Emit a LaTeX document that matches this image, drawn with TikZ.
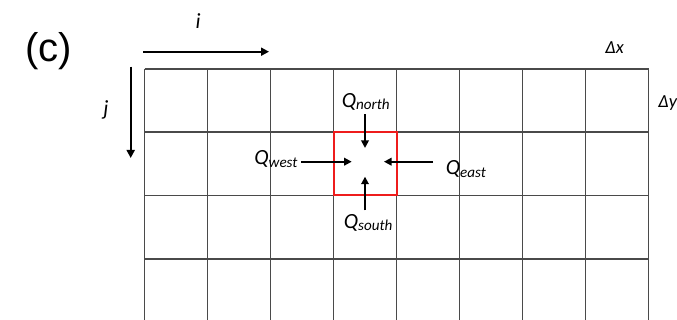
\documentclass[tikz,border=0pt]{standalone}
\usepackage{fontspec}
\setmainfont{Liberation Sans}
\newfontfamily\labfont{Carlito}
\usetikzlibrary{arrows.meta, calc}
\definecolor{GridGray}{HTML}{4A4A4A}
\definecolor{CellRed}{HTML}{EE1C1C}
\newcommand{\flux}[1]{Q\raisebox{-1.2pt}{\fontsize{8.6}{9}\selectfont #1}}
\tikzset{
  gridline/.style={draw=GridGray, line width=1pt},
  cellbox/.style={draw=CellRed, line width=1.4pt, minimum width=1.26cm,
    minimum height=1.25cm, inner sep=0pt},
  qlabel/.style={font=\labfont\itshape\fontsize{12.3}{13}\selectfont, inner sep=2pt},
  dlabel/.style={font=\labfont\itshape\fontsize{10.5}{12}\selectfont, inner sep=0pt},
  axis/.style={-{Triangle[length=1.6mm, width=1.6mm]}, line width=1.1pt},
  fluxarrow/.style={-{Triangle[length=1.5mm, width=1.5mm]}, line width=1pt},
}
\begin{document}
\begin{tikzpicture}[x=0.02cm, y=-0.02cm]
  \useasboundingbox (0,0) rectangle (677,320);
  \clip (0,0) rectangle (677,320);

  % finite volume mesh
  \foreach \r in {69,132,195.5,259}
    \draw[gridline] (144.5,\r) -- (648.5,\r);
  \foreach \k in {0,...,8}
    \draw[gridline] (144.5+63*\k,69) -- (144.5+63*\k,330);

  % control cell (i,j)
  \node[cellbox] (cell) at (365.5,163.5) {};

  \node[font=\fontsize{22.8}{24}\selectfont] (tag) at (48.5,51) {(c)};

  % index directions
  \coordinate (i0) at (143,51.7);
  \coordinate (i1) at (269,51.7);
  \coordinate (j0) at (130.7,66.7);
  \coordinate (j1) at (130.7,158);
  \draw[axis] (i0) -- (i1);
  \draw[axis] (j0) -- (j1);
  \node[qlabel] (ilab) at (198,21) {i};
  \node[qlabel] (jlab) at (106,110) {j};

  \node[dlabel, anchor=base west] (dx) at (605,53.3) {Δx};
  \node[dlabel, anchor=base west] (dy) at (658,108) {Δy};

  % fluxes through the cell faces
  \node[qlabel, anchor=base west] (qn) at (338,107.3) {\flux{north}};
  \node[qlabel, anchor=base west] (qw) at (250.5,165) {\flux{west}};
  \node[qlabel, anchor=base west] (qe) at (442,175) {\flux{east}};
  \node[qlabel, anchor=base west] (qs) at (340,228.3) {\flux{south}};

  \coordinate (cn) at (365,148);
  \coordinate (cw) at (351.7,161.7);
  \coordinate (ce) at (384,161.7);
  \coordinate (cs) at (365,176.7);
  \draw[fluxarrow] (qn.south -| cn) -- (cn);
  \draw[fluxarrow] (qw.east |- cw) -- (cw);
  \draw[fluxarrow, shorten <=5pt] (qe.west |- ce) -- (ce);
  \draw[fluxarrow] (qs.north -| cs) -- (cs);
\end{tikzpicture}
\end{document}
